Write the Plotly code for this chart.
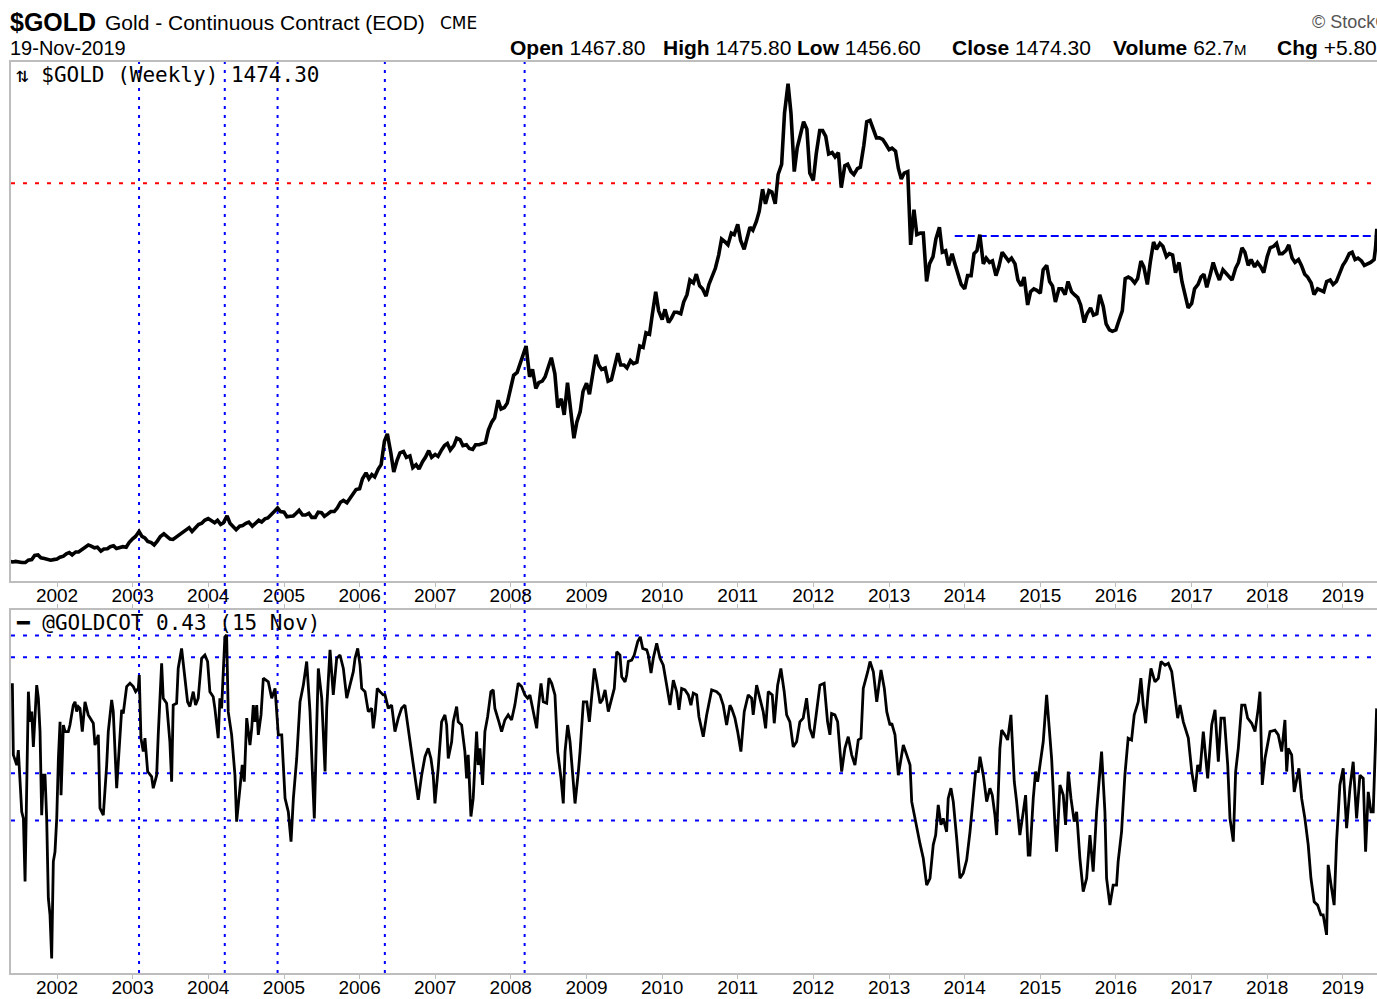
import calendar
from datetime import datetime, timedelta
import plotly.graph_objects as go

# ---------------- data ----------------
# $GOLD weekly close, sampled on the 1st and 15th of each month
gold_2001 = [270, 268, 270, 267, 266, 266, 274, 276, 290, 292, 282, 280, 276, 274, 276]  # from May 15
gold_2002 = [278, 284, 288, 296, 300, 292, 302, 302, 310, 318, 326, 322, 316, 318, 305, 312, 313, 320, 323, 314, 318, 320, 318, 334]
gold_2003 = [347, 355, 372, 355, 350, 338, 334, 326, 340, 355, 364, 356, 346, 345, 354, 360, 372, 380, 385, 372, 384, 396, 400, 410]
gold_2004 = [416, 410, 402, 410, 396, 402, 425, 400, 390, 378, 390, 392, 400, 404, 390, 400, 410, 404, 415, 418, 428, 440, 452, 440]
gold_2005 = [438, 422, 424, 425, 434, 444, 428, 428, 434, 420, 420, 438, 436, 424, 432, 440, 440, 452, 472, 478, 470, 484, 500, 515]
gold_2006 = [518, 552, 572, 552, 566, 558, 585, 600, 680, 705, 640, 575, 615, 640, 645, 625, 630, 590, 600, 585, 610, 625, 648, 625]
gold_2007 = [635, 628, 650, 665, 672, 650, 665, 690, 685, 665, 668, 655, 652, 668, 668, 670, 675, 718, 745, 760, 820, 790, 795, 810]
gold_2008 = [860, 905, 915, 945, 975, 1005, 900, 925, 860, 880, 885, 900, 935, 965, 910, 795, 825, 770, 880, 790, 690, 745, 780, 850]
gold_2009 = [878, 840, 920, 975, 940, 925, 930, 885, 890, 930, 980, 940, 940, 930, 955, 945, 950, 1005, 1000, 1050, 1045, 1115, 1190, 1125]
gold_2010 = [1095, 1130, 1085, 1100, 1120, 1120, 1115, 1155, 1180, 1230, 1220, 1250, 1210, 1200, 1175, 1215, 1250, 1270, 1315, 1370, 1360, 1350, 1390, 1385]
gold_2011 = [1420, 1365, 1335, 1375, 1410, 1400, 1430, 1465, 1540, 1490, 1535, 1530, 1490, 1590, 1625, 1800, 1900, 1800, 1600, 1680, 1735, 1770, 1745, 1595]
gold_2012 = [1570, 1660, 1740, 1740, 1720, 1660, 1665, 1650, 1665, 1545, 1620, 1625, 1600, 1590, 1610, 1615, 1690, 1770, 1775, 1750, 1715, 1715, 1710, 1695]
gold_2013 = [1675, 1680, 1670, 1610, 1575, 1595, 1600, 1350, 1470, 1385, 1390, 1390, 1225, 1285, 1310, 1370, 1410, 1325, 1330, 1280, 1320, 1285, 1245, 1215]
gold_2014 = [1200, 1245, 1245, 1320, 1330, 1385, 1285, 1305, 1290, 1295, 1245, 1275, 1325, 1310, 1295, 1305, 1285, 1230, 1210, 1240, 1145, 1190, 1200, 1195]
gold_2015 = [1185, 1265, 1280, 1225, 1210, 1155, 1200, 1200, 1180, 1225, 1190, 1180, 1170, 1145, 1085, 1115, 1135, 1110, 1115, 1180, 1140, 1080, 1060, 1055]
gold_2016 = [1060, 1090, 1125, 1235, 1240, 1235, 1220, 1235, 1295, 1275, 1215, 1290, 1360, 1335, 1355, 1345, 1310, 1320, 1315, 1255, 1290, 1225, 1175, 1135]
gold_2017 = [1150, 1200, 1215, 1240, 1250, 1205, 1250, 1290, 1255, 1230, 1265, 1255, 1240, 1230, 1270, 1290, 1340, 1325, 1280, 1300, 1275, 1290, 1275, 1255]
gold_2018 = [1310, 1340, 1345, 1355, 1320, 1320, 1330, 1350, 1305, 1290, 1300, 1280, 1250, 1240, 1220, 1180, 1200, 1195, 1190, 1225, 1230, 1215, 1225, 1250]
gold_2019 = [1280, 1295, 1320, 1325, 1300, 1305, 1295, 1280, 1285, 1290, 1300]  # to Jun 1
gold_tail_dates = ["2019-06-08", "2019-06-14"]
gold_tail = [1340, 1405]

# @GOLDCOT weekly readings: decimal year, value
cot_time = [
    2001.409, 2001.422, 2001.467, 2001.488, 2001.533, 2001.555, 2001.577, 2001.599, 2001.621, 2001.643, 2001.665, 2001.687, 2001.731, 2001.753, 2001.775, 2001.797, 2001.819, 2001.841, 2001.863, 2001.885, 2001.907, 2001.929, 2001.951, 2001.973, 2001.996,
    2002.018, 2002.040, 2002.053, 2002.084, 2002.106, 2002.149, 2002.171, 2002.215, 2002.238, 2002.260, 2002.281, 2002.304, 2002.334, 2002.370, 2002.413, 2002.480, 2002.502, 2002.546, 2002.568, 2002.612, 2002.657, 2002.678, 2002.723, 2002.744, 2002.789, 2002.833, 2002.855, 2002.876, 2002.921, 2002.965,
    2003.009, 2003.040, 2003.075, 2003.088, 2003.110, 2003.141, 2003.163, 2003.199, 2003.251, 2003.273, 2003.318, 2003.339, 2003.361, 2003.384, 2003.405, 2003.450, 2003.493, 2003.516, 2003.537, 2003.582, 2003.603, 2003.648, 2003.692, 2003.727, 2003.758, 2003.802, 2003.833, 2003.868, 2003.913, 2003.956, 2003.992,
    2004.022, 2004.066, 2004.088, 2004.132, 2004.154, 2004.177, 2004.211, 2004.220, 2004.243, 2004.264, 2004.309, 2004.353, 2004.375, 2004.419, 2004.449, 2004.476, 2004.508, 2004.551, 2004.574, 2004.595, 2004.617, 2004.640, 2004.661, 2004.697, 2004.727, 2004.793, 2004.838, 2004.882, 2004.925, 2004.970,
    2005.014, 2005.057, 2005.093, 2005.124, 2005.168, 2005.212, 2005.256, 2005.300, 2005.344, 2005.375, 2005.401, 2005.433, 2005.454, 2005.499, 2005.543, 2005.565, 2005.609, 2005.652, 2005.697, 2005.741, 2005.785, 2005.830, 2005.873, 2005.917, 2005.940, 2005.975,
    2006.006, 2006.028, 2006.072, 2006.115, 2006.160, 2006.181, 2006.204, 2006.234, 2006.270, 2006.313, 2006.336, 2006.380, 2006.424, 2006.468, 2006.512, 2006.556, 2006.600, 2006.644, 2006.689, 2006.732, 2006.776, 2006.821, 2006.865, 2006.908, 2006.944, 2006.974, 2006.997,
    2007.040, 2007.085, 2007.129, 2007.152, 2007.173, 2007.218, 2007.239, 2007.284, 2007.305, 2007.350, 2007.393, 2007.416, 2007.437, 2007.473, 2007.503, 2007.548, 2007.569, 2007.592, 2007.627, 2007.658, 2007.694, 2007.737, 2007.768, 2007.790, 2007.843, 2007.879, 2007.922, 2007.966,
    2008.011, 2008.054, 2008.098, 2008.143, 2008.187, 2008.223, 2008.253, 2008.297, 2008.342, 2008.363, 2008.399, 2008.429, 2008.474, 2008.504, 2008.540, 2008.583, 2008.619, 2008.663, 2008.693, 2008.716, 2008.751, 2008.782, 2008.825, 2008.848, 2008.892, 2008.914, 2008.958,
    2009.003, 2009.037, 2009.069, 2009.103, 2009.135, 2009.179, 2009.209, 2009.245, 2009.288, 2009.333, 2009.367, 2009.399, 2009.442, 2009.465, 2009.509, 2009.531, 2009.552, 2009.597, 2009.631, 2009.677, 2009.711, 2009.743, 2009.796, 2009.817, 2009.853, 2009.883, 2009.928, 2009.972,
    2010.015, 2010.060, 2010.104, 2010.148, 2010.192, 2010.223, 2010.258, 2010.302, 2010.346, 2010.381, 2010.412, 2010.457, 2010.487, 2010.544, 2010.589, 2010.655, 2010.721, 2010.765, 2010.808, 2010.853, 2010.897, 2010.919, 2010.963, 2010.999,
    2011.042, 2011.086, 2011.139, 2011.184, 2011.205, 2011.250, 2011.294, 2011.337, 2011.369, 2011.404, 2011.457, 2011.483, 2011.528, 2011.571, 2011.615, 2011.647, 2011.690, 2011.734, 2011.779, 2011.822, 2011.866, 2011.911, 2011.954, 2011.998,
    2012.043, 2012.087, 2012.143, 2012.188, 2012.219, 2012.241, 2012.285, 2012.321, 2012.374, 2012.417, 2012.461, 2012.506, 2012.549, 2012.593, 2012.629, 2012.659, 2012.718, 2012.748, 2012.792, 2012.837, 2012.893, 2012.937, 2012.969,
    2013.012, 2013.035, 2013.078, 2013.122, 2013.188, 2013.233, 2013.277, 2013.299, 2013.342, 2013.378, 2013.408, 2013.452, 2013.497, 2013.541, 2013.584, 2013.616, 2013.650, 2013.686, 2013.716, 2013.761, 2013.782, 2013.818, 2013.849, 2013.894, 2013.937, 2013.981,
    2014.026, 2014.070, 2014.113, 2014.145, 2014.180, 2014.202, 2014.246, 2014.291, 2014.334, 2014.365, 2014.400, 2014.423, 2014.466, 2014.489, 2014.532, 2014.568, 2014.612, 2014.656, 2014.687, 2014.730, 2014.775, 2014.806, 2014.841, 2014.863, 2014.907, 2014.938, 2014.965, 2014.995,
    2015.039, 2015.084, 2015.105, 2015.150, 2015.194, 2015.216, 2015.260, 2015.304, 2015.335, 2015.370, 2015.406, 2015.449, 2015.481, 2015.524, 2015.568, 2015.613, 2015.657, 2015.700, 2015.745, 2015.811, 2015.855, 2015.877, 2015.921, 2015.964,
    2016.009, 2016.030, 2016.075, 2016.119, 2016.162, 2016.207, 2016.242, 2016.295, 2016.330, 2016.361, 2016.393, 2016.427, 2016.463, 2016.516, 2016.560, 2016.596, 2016.649, 2016.692, 2016.737, 2016.780, 2016.816, 2016.846, 2016.890, 2016.956,
    2017.001, 2017.044, 2017.080, 2017.110, 2017.154, 2017.212, 2017.265, 2017.309, 2017.353, 2017.388, 2017.432, 2017.477, 2017.507, 2017.551, 2017.582, 2017.617, 2017.662, 2017.705, 2017.741, 2017.794, 2017.838, 2017.881, 2017.904, 2017.934, 2017.970,
    2018.036, 2018.102, 2018.146, 2018.191, 2018.234, 2018.257, 2018.278, 2018.323, 2018.357, 2018.389, 2018.419, 2018.455, 2018.498, 2018.542, 2018.578, 2018.621, 2018.666, 2018.710, 2018.740, 2018.785, 2018.806, 2018.851, 2018.885, 2018.917, 2018.961,
    2019.005, 2019.050, 2019.094, 2019.137, 2019.182, 2019.226, 2019.270, 2019.301, 2019.336, 2019.372, 2019.402, 2019.434, 2019.447,
]
cot_value = [
    0.798, 0.601, 0.573, 0.614, 0.444, 0.426, 0.252, 0.490, 0.775, 0.692, 0.720, 0.623, 0.793, 0.757, 0.665, 0.435, 0.545, 0.545, 0.426, 0.206, 0.160, 0.040, 0.307, 0.334, 0.426,
    0.591, 0.692, 0.490, 0.683, 0.665, 0.665, 0.683, 0.738, 0.747, 0.720, 0.734, 0.729, 0.665, 0.747, 0.711, 0.688, 0.628, 0.656, 0.454, 0.435, 0.573, 0.665, 0.752, 0.720, 0.509, 0.674, 0.725, 0.715, 0.789, 0.798,
    0.789, 0.775, 0.784, 0.821, 0.647, 0.610, 0.647, 0.555, 0.541, 0.509, 0.545, 0.656, 0.743, 0.853, 0.757, 0.743, 0.637, 0.527, 0.738, 0.743, 0.839, 0.894, 0.812, 0.747, 0.734, 0.775, 0.738, 0.757, 0.867, 0.876, 0.858,
    0.775, 0.761, 0.729, 0.647, 0.757, 0.729, 0.867, 0.926, 0.931, 0.720, 0.656, 0.545, 0.417, 0.509, 0.573, 0.527, 0.702, 0.628, 0.674, 0.738, 0.692, 0.738, 0.656, 0.711, 0.812, 0.802, 0.757, 0.784, 0.656, 0.656,
    0.481, 0.444, 0.362, 0.481, 0.591, 0.747, 0.793, 0.858, 0.720, 0.555, 0.426, 0.683, 0.839, 0.757, 0.555, 0.729, 0.890, 0.766, 0.867, 0.876, 0.839, 0.757, 0.793, 0.830, 0.867, 0.894,
    0.848, 0.784, 0.775, 0.720, 0.729, 0.674, 0.711, 0.784, 0.775, 0.766, 0.766, 0.729, 0.738, 0.665, 0.702, 0.729, 0.738, 0.674, 0.610, 0.536, 0.477, 0.545, 0.596, 0.619, 0.591, 0.545, 0.467,
    0.564, 0.692, 0.711, 0.683, 0.591, 0.637, 0.692, 0.734, 0.692, 0.683, 0.610, 0.536, 0.601, 0.431, 0.481, 0.665, 0.573, 0.619, 0.518, 0.665, 0.706, 0.775, 0.780, 0.729, 0.692, 0.665, 0.697, 0.711,
    0.697, 0.738, 0.798, 0.789, 0.766, 0.757, 0.766, 0.720, 0.674, 0.729, 0.798, 0.747, 0.743, 0.812, 0.798, 0.766, 0.610, 0.536, 0.467, 0.610, 0.683, 0.637, 0.523, 0.467, 0.555, 0.610, 0.747,
    0.747, 0.692, 0.761, 0.839, 0.802, 0.743, 0.752, 0.780, 0.720, 0.757, 0.784, 0.885, 0.876, 0.816, 0.802, 0.821, 0.858, 0.862, 0.876, 0.913, 0.926, 0.894, 0.890, 0.876, 0.826, 0.867, 0.908, 0.867,
    0.848, 0.793, 0.738, 0.807, 0.775, 0.725, 0.784, 0.780, 0.766, 0.738, 0.771, 0.766, 0.706, 0.651, 0.711, 0.780, 0.775, 0.766, 0.738, 0.683, 0.738, 0.729, 0.702, 0.665,
    0.610, 0.720, 0.766, 0.757, 0.711, 0.793, 0.757, 0.720, 0.674, 0.775, 0.766, 0.688, 0.793, 0.839, 0.775, 0.711, 0.692, 0.623, 0.637, 0.692, 0.702, 0.757, 0.674, 0.647,
    0.720, 0.793, 0.798, 0.692, 0.656, 0.715, 0.711, 0.692, 0.555, 0.619, 0.651, 0.601, 0.573, 0.642, 0.647, 0.784, 0.830, 0.858, 0.830, 0.747, 0.835, 0.784, 0.720,
    0.683, 0.688, 0.656, 0.545, 0.628, 0.601, 0.573, 0.472, 0.426, 0.380, 0.357, 0.316, 0.242, 0.261, 0.353, 0.380, 0.463, 0.408, 0.426, 0.389, 0.481, 0.509, 0.472, 0.371, 0.261, 0.275,
    0.311, 0.389, 0.481, 0.555, 0.555, 0.596, 0.545, 0.472, 0.509, 0.490, 0.435, 0.380, 0.619, 0.669, 0.656, 0.642, 0.711, 0.527, 0.472, 0.380, 0.444, 0.490, 0.325, 0.325, 0.481, 0.555, 0.527, 0.573,
    0.637, 0.766, 0.702, 0.591, 0.408, 0.334, 0.518, 0.490, 0.408, 0.555, 0.481, 0.417, 0.444, 0.316, 0.224, 0.261, 0.380, 0.279, 0.444, 0.610, 0.444, 0.261, 0.187, 0.242,
    0.242, 0.307, 0.389, 0.545, 0.647, 0.642, 0.711, 0.747, 0.812, 0.738, 0.688, 0.775, 0.839, 0.802, 0.812, 0.858, 0.848, 0.853, 0.830, 0.766, 0.702, 0.738, 0.692, 0.647,
    0.555, 0.499, 0.573, 0.555, 0.665, 0.536, 0.683, 0.725, 0.582, 0.702, 0.702, 0.573, 0.426, 0.362, 0.555, 0.619, 0.738, 0.738, 0.702, 0.688, 0.665, 0.729, 0.775, 0.518, 0.591,
    0.665, 0.669, 0.656, 0.610, 0.697, 0.555, 0.619, 0.601, 0.499, 0.536, 0.564, 0.481, 0.426, 0.353, 0.261, 0.196, 0.187, 0.160, 0.160, 0.105, 0.298, 0.233, 0.187, 0.362, 0.518,
    0.564, 0.399, 0.509, 0.582, 0.426, 0.545, 0.536, 0.334, 0.499, 0.444, 0.444, 0.683, 0.729,
]

# annotation lines
cot_mark_dates = ["2003-02-01", "2004-03-21", "2004-12-01", "2006-05-03", "2008-03-08"]
gold_red_level = 1560
gold_blue_level = 1380
gold_blue_start = "2013-11-14"
cot_levels = [0.93, 0.87, 0.55, 0.42]
year_ticks = list(range(2002, 2020))

# ---------------- helpers ----------------
def dec_to_date(t):
    y = int(t)
    n = 366 if calendar.isleap(y) else 365
    return datetime(y, 1, 1) + timedelta(days=(t - y) * n)


def semimonthly(year, values, start_idx=0):
    ds = [datetime(year, m, d) for m in range(1, 13) for d in (1, 15)]
    return ds[start_idx:start_idx + len(values)]


gold_x, gold_y = [], []
for yr, vals, st in [(2001, gold_2001, 9), (2002, gold_2002, 0), (2003, gold_2003, 0), (2004, gold_2004, 0),
                     (2005, gold_2005, 0), (2006, gold_2006, 0), (2007, gold_2007, 0), (2008, gold_2008, 0),
                     (2009, gold_2009, 0), (2010, gold_2010, 0), (2011, gold_2011, 0), (2012, gold_2012, 0),
                     (2013, gold_2013, 0), (2014, gold_2014, 0), (2015, gold_2015, 0), (2016, gold_2016, 0),
                     (2017, gold_2017, 0), (2018, gold_2018, 0), (2019, gold_2019, 0)]:
    gold_x += semimonthly(yr, vals, st)
    gold_y += vals
gold_x += [datetime.fromisoformat(d) for d in gold_tail_dates]
gold_y += gold_tail

assert len(cot_time) == len(cot_value)
cot_x = [dec_to_date(t) for t in cot_time]

X0 = dec_to_date(2001.391)
X1 = dec_to_date(2019.452)

# ---------------- figure ----------------
W, H = 1377, 999
ML, MR, MT, MB = 11, 0, 62, 26
PW, PH = W - ML - MR, H - MT - MB
TOP_BOTTOM_PX = 581
BOT_TOP_PX = 610


def px(xp):
    return (xp - ML) / PW


def py(yp):
    return (H - MB - yp) / PH


AXC = "#bdbdbd"
fig = go.Figure()
fig.add_trace(go.Scatter(x=gold_x, y=gold_y, mode="lines", line=dict(color="black", width=3.6),
                         xaxis="x", yaxis="y", showlegend=False, hoverinfo="skip"))
fig.add_trace(go.Scatter(x=cot_x, y=cot_value, mode="lines", line=dict(color="black", width=2.8),
                         xaxis="x2", yaxis="y2", showlegend=False, hoverinfo="skip"))

tickvals = [datetime(y, 1, 1) for y in year_ticks]
ticktext = [str(y) for y in year_ticks]
common_x = dict(type="date", range=[X0, X1], showgrid=False, zeroline=False, showline=True,
                linecolor=AXC, linewidth=2, ticks="outside", ticklen=4, tickwidth=1, tickcolor=AXC,
                tickvals=tickvals, ticktext=ticktext, automargin=False, ticklabelstandoff=-8,
                tickfont=dict(family="Liberation Sans, Arial", size=19, color="black"))

fig.update_layout(
    width=W, height=H,
    margin=dict(l=ML, r=MR, t=MT, b=MB, pad=0, autoexpand=False),
    paper_bgcolor="white", plot_bgcolor="rgba(0,0,0,0)",
    showlegend=False,
    xaxis=dict(**common_x, anchor="y", mirror=True),
    yaxis=dict(domain=[py(TOP_BOTTOM_PX), 1], range=[203, 1974], showgrid=False, zeroline=False,
               showline=True, linecolor=AXC, linewidth=2, showticklabels=False, ticks="", automargin=False),
    xaxis2=dict(**common_x, anchor="y2", mirror="ticks"),
    yaxis2=dict(domain=[0, py(BOT_TOP_PX)], range=[0, 1], showgrid=False, zeroline=False,
                showline=True, linecolor=AXC, linewidth=2, showticklabels=False, ticks="", automargin=False),
)

shapes = []
for d in cot_mark_dates:
    shapes.append(dict(type="line", xref="x", yref="paper", x0=d, x1=d, y0=0, y1=1,
                       line=dict(color="#0000ff", width=2, dash="3px,6px"), layer="below"))
shapes.append(dict(type="line", xref="paper", yref="y", x0=0, x1=1, y0=gold_red_level, y1=gold_red_level,
                   line=dict(color="#ff0000", width=2, dash="4px,8px"), layer="below"))
shapes.append(dict(type="line", xref="x", yref="y", x0=gold_blue_start, x1=X1, y0=gold_blue_level, y1=gold_blue_level,
                   line=dict(color="#0000ff", width=2, dash="8px,4px"), layer="below"))
for lv in cot_levels:
    shapes.append(dict(type="line", xref="paper", yref="y2", x0=0, x1=1, y0=lv, y1=lv,
                       line=dict(color="#0000ff", width=2, dash="4px,8px"), layer="below"))
fig.update_layout(shapes=shapes)


def note(text, xp, yp, size, family="Liberation Sans, Arial", color="black", anchor="left"):
    fig.add_annotation(text=text, x=px(xp), y=py(yp), xref="paper", yref="paper",
                       xanchor=anchor, yanchor="middle", showarrow=False,
                       font=dict(family=family, size=size, color=color))


note("<b>$GOLD</b>", 8, 22, 25)
note("Gold - Continuous Contract (EOD)", 103, 23, 21)
note("CME", 438, 23, 17, family="DejaVu Sans")
note("19-Nov-2019", 8, 48, 20)
note("<b>Open</b> 1467.80", 508, 48, 21)
note("<b>High</b> 1475.80", 661, 48, 21)
note("<b>Low</b> 1456.60", 795, 48, 21)
note("<b>Close</b> 1474.30", 950, 48, 21)
note("<b>Volume</b> 62.7<span style='font-size:15px'>M</span>", 1111, 48, 21)
note("<b>Chg</b> +5.80 (+0.40%)", 1275, 48, 21)
note("© StockCharts.com", 1310, 22, 18, color="#555555")
note("⇅ $GOLD (Weekly) 1474.30", 14, 75, 21, family="DejaVu Sans Mono")
note("━ @GOLDCOT 0.43 (15 Nov)", 14, 623, 21, family="DejaVu Sans Mono")

fig.write_html("out.html", config={"displayModeBar": False},
               post_script="document.body.style.margin='0';document.body.style.overflow='hidden';")
